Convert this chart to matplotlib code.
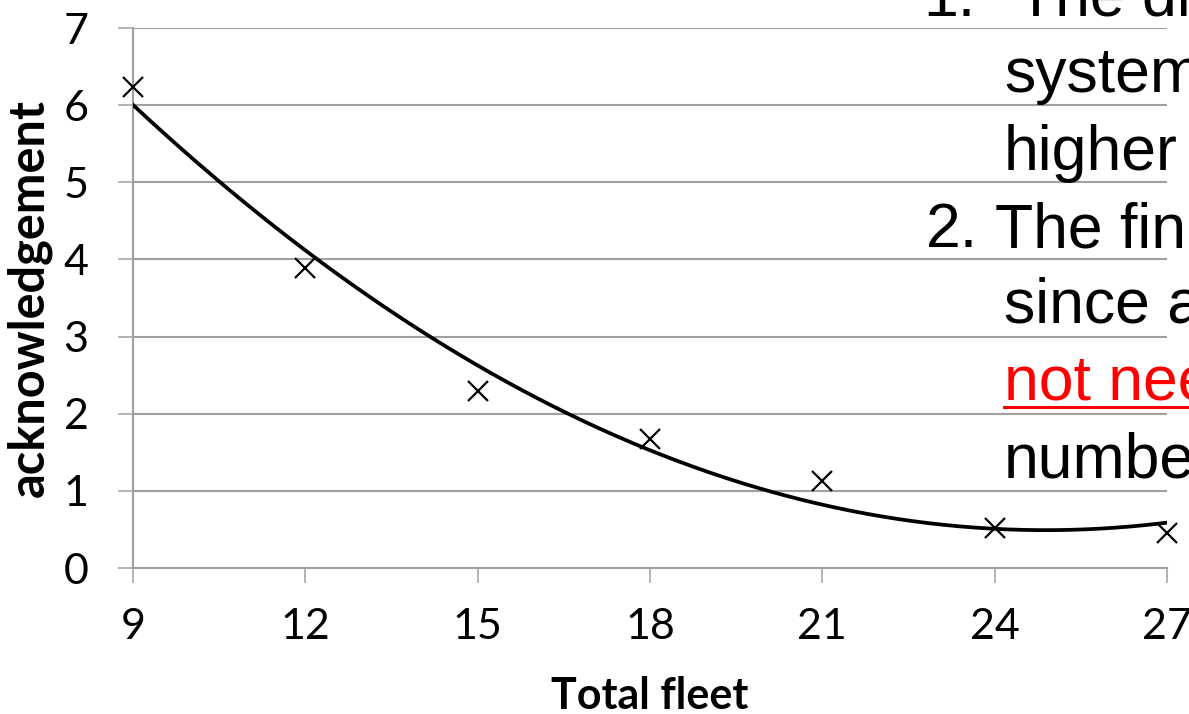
import numpy as np
import matplotlib.pyplot as plt
from matplotlib.lines import Line2D

# Datos
fleet = [9, 12, 15, 18, 21, 24, 27]
ack = [6.24, 3.89, 2.29, 1.67, 1.13, 0.52, 0.45]
x_ticks = [9, 12, 15, 18, 21, 24, 27]
y_ticks = [0, 1, 2, 3, 4, 5, 6, 7]

# Texto de la diapositiva (recortado por el borde derecho)
slide_lines = ["system", "higher", "since a", "numbe"]

W, H = 1189, 714
GRID = "#a0a0a0"
TICK_FONT = "Lato"

fig = plt.figure(figsize=(W / 100, H / 100), dpi=100)
ax = fig.add_axes([133 / W, 1 - 568 / H, (1167 - 133) / W, (568 - 28) / H])

# Linea de tendencia polinomica (orden 2), como la de Excel
coef = np.polyfit(fleet, ack, 2)
xs = np.linspace(min(fleet), max(fleet), 200)
ax.plot(xs, np.polyval(coef, xs), color="black", lw=2.7, zorder=3)

ax.plot(fleet, ack, linestyle="none", marker="x", color="black",
        markersize=15, markeredgewidth=1.6, zorder=4, clip_on=False)

ax.set_xlim(9, 27)
ax.set_ylim(0, 7)
ax.set_xticks(x_ticks)
ax.set_yticks(y_ticks)
ax.yaxis.grid(True, color=GRID, lw=1.5)
ax.set_axisbelow(True)

for s in ["top", "right"]:
    ax.spines[s].set_visible(False)
for s in ["left", "bottom"]:
    ax.spines[s].set_color(GRID)
    ax.spines[s].set_linewidth(1.5)

ax.tick_params(axis="both", direction="out", length=11, width=1.1, color=GRID,
               labelsize=31, pad=18)
ax.tick_params(axis="y", pad=21)
for lab in ax.get_xticklabels() + ax.get_yticklabels():
    lab.set_fontfamily(TICK_FONT)

ax.set_xlabel("Total fleet", fontsize=31, fontweight="bold", family=TICK_FONT)
ax.set_ylabel("acknowledgement", fontsize=35, fontweight="bold", family=TICK_FONT)
ax.xaxis.set_label_coords(0.5, (568 - 676) / 540)
ax.yaxis.set_label_coords((52 - 133) / 1034, 0.5)

# Texto superpuesto de la diapositiva
TXT = dict(fontsize=45, family="Liberation Sans", va="baseline", ha="left")


def fy(px):
    return 1 - px / H


fig.text(923 / W, fy(16), "1.", **TXT)
fig.text(1017 / W, fy(16), "The di", **TXT)
fig.text(1004 / W, fy(92), slide_lines[0], **TXT)
fig.text(1004 / W, fy(170), slide_lines[1], **TXT)
fig.text(926 / W, fy(247), "2.", **TXT)
fig.text(995 / W, fy(247), "The fin", **TXT)
fig.text(1004 / W, fy(323), slide_lines[2], **TXT)
fig.text(1004 / W, fy(400), "not nee", color="#ff0000", **TXT)
fig.text(1004 / W, fy(477), slide_lines[3], **TXT)

# subrayado del texto en rojo
fig.add_artist(Line2D([1004 / W, 1.0], [fy(407), fy(407)], color="#ff0000",
                      lw=2.2, transform=fig.transFigure))

fig.savefig("out.png", dpi=100)
